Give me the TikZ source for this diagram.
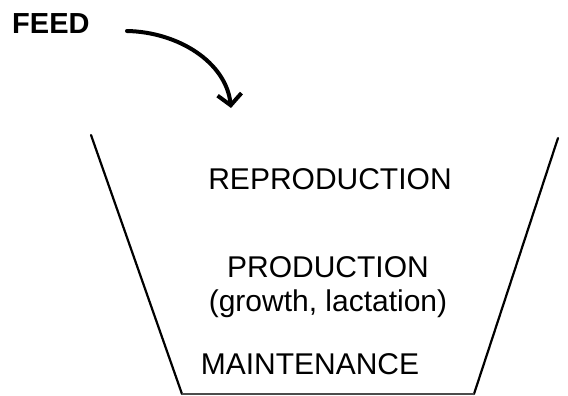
\documentclass[tikz,border=0pt]{standalone}
\usepackage{fontspec}
\setmainfont{Liberation Sans}
\usetikzlibrary{arrows.meta}
\begin{document}
\begin{tikzpicture}[x=1pt,y=-1pt,
  lbl/.style={font=\fontsize{30}{34}\selectfont, align=center, inner sep=0pt},
  wall/.style={line width=2.2pt, line cap=round}]
\useasboundingbox (0,0) rectangle (568,396);
\node[lbl, font=\fontsize{29}{32}\selectfont\bfseries, anchor=west] (feed) at (12,24) {FEED};
\coordinate (as) at (127,31);
\coordinate (ae) at (231,108);
\draw[line width=4pt, line cap=round, -{Straight Barb[length=11pt,width=24pt,line width=4pt]}]
  (as) .. controls (178,32) and (226,62) .. (ae);
\coordinate (tl) at (91,135);
\coordinate (bl) at (182,394);
\coordinate (br) at (474,394);
\coordinate (tr) at (558,138);
\draw[wall] (tl) -- (bl);
\draw[wall] (br) -- (tr);
\draw[line width=1.2pt, black!70] (bl) -- (br);
\node[lbl] (repro) at (330,179) {REPRODUCTION};
\node[lbl] (prod) at (328,267) {PRODUCTION};
\node[lbl] (growth) at (328,304) {(growth, lactation)};
\node[lbl] (maint) at (310,364) {MAINTENANCE};
\end{tikzpicture}
\end{document}
